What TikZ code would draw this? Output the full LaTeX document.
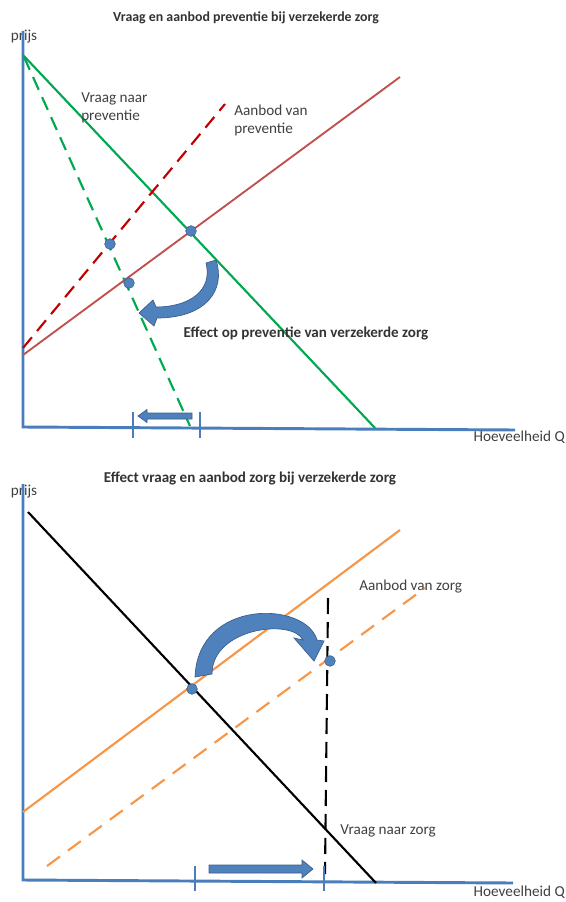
\documentclass[tikz,border=0pt]{standalone}
\usepackage{fontspec}
\setmainfont{Carlito}
\definecolor{axisblue}{HTML}{4A7EBB}
\definecolor{dotblue}{HTML}{4F81BD}
\definecolor{dotedge}{HTML}{385D8A}
\definecolor{cgreen}{HTML}{00A850}
\definecolor{cred}{HTML}{C0504D}
\definecolor{cdred}{HTML}{C00000}
\definecolor{corange}{HTML}{F79646}
\definecolor{ctext}{HTML}{404040}
\begin{document}
\begin{tikzpicture}[x=0.75pt,y=-0.75pt,
  axis/.style={draw=axisblue,line width=2.2pt},
  tickmark/.style={draw=axisblue,line width=1.6pt},
  curve/.style={line width=1.6pt},
  dashcurve/.style={line width=1.6pt,dash pattern=on 10.5pt off 6pt},
  dot/.style={circle,fill=dotblue,draw=dotedge,line width=0.4pt,inner sep=0pt,minimum size=8pt},
  blockarrow/.style={fill=dotblue,draw=dotedge,line width=0.5pt},
  lbl/.style={text=ctext,font=\fontsize{11.4}{13.5}\selectfont,inner sep=0pt,align=left},
  ttl/.style={text=black!80,font=\fontsize{10.4}{12}\selectfont\bfseries,inner sep=0pt}]
\useasboundingbox (0,0) rectangle (566,902);

% ---------- top chart ----------
\node[ttl] (t1) at (246,18) {Vraag en aanbod preventie bij verzekerde zorg};
\node[lbl] (p1) at (24,37) {prijs};
\coordinate (ya1) at (23,31);
\coordinate (o1) at (23,427);
\coordinate (xa1) at (515,430);
\draw[axis] (ya1) -- (o1) -- (xa1);
\node[lbl,anchor=east] (q1) at (565,437) {Hoeveelheid Q};

\coordinate (gs1) at (23,55);
\coordinate (ge1) at (375,428);
\coordinate (gd1) at (24,57);
\coordinate (gde1) at (190,426);
\draw[curve,cgreen] (gs1) -- (ge1);
\draw[dashcurve,cgreen] (gd1) -- (gde1);

\coordinate (rs1) at (23,355);
\coordinate (re1) at (400,77);
\coordinate (rds1) at (23,348);
\coordinate (rde1) at (225,104);
\draw[curve,cred,line width=1.4pt] (rs1) -- (re1);
\draw[dashcurve,cdred] (rds1) -- (rde1);

\node[lbl,anchor=north west] (vp) at (81,92) {Vraag naar\\preventie};
\node[lbl,anchor=north west] (ap) at (234,105) {Aanbod van\\preventie};

\node[dot] (d1) at (110,244) {};
\node[dot] (d2) at (191,231) {};
\node[dot] (d3) at (129,283) {};

\path[blockarrow] (206,263) .. controls (213,290) and (190,307) .. (156,307)
  -- (153,300) -- (139,313) -- (154,326) -- (157,318)
  .. controls (206,318) and (226,290) .. (216,260) -- cycle;

\node[ttl,font=\fontsize{11.3}{12}\selectfont\bfseries] (ep) at (306,333) {Effect op preventie van verzekerde zorg};

\coordinate (k1t) at (133,412);
\coordinate (k1b) at (133,438);
\coordinate (k2t) at (200,412);
\coordinate (k2b) at (200,438);
\draw[tickmark] (k1t) -- (k1b);
\draw[tickmark] (k2t) -- (k2b);
\path[blockarrow] (192,413) -- (147,413) -- (147,409.5) -- (138,416) -- (147,422.5) -- (147,419) -- (192,419) -- cycle;

% ---------- bottom chart ----------
\node[ttl,font=\fontsize{11.3}{12}\selectfont\bfseries] (t2) at (250,478) {Effect vraag en aanbod zorg bij verzekerde zorg};
\node[lbl] (p2) at (24,492) {prijs};
\coordinate (ya2) at (23,484);
\coordinate (o2) at (23,880);
\coordinate (xa2) at (513,883);
\draw[axis] (ya2) -- (o2) -- (xa2);
\node[lbl,anchor=east] (q2) at (565,892) {Hoeveelheid Q};

\coordinate (bs) at (28,512);
\coordinate (be) at (376,883);
\draw[curve,black] (bs) -- (be);

\coordinate (os) at (23,812);
\coordinate (oe) at (400,530);
\coordinate (ods) at (47,866);
\coordinate (ode) at (425,588);
\draw[curve,corange] (os) -- (oe);
\draw[dashcurve,corange,dash pattern=on 12pt off 7.5pt] (ods) -- (ode);

\coordinate (vs) at (328,598);
\coordinate (ve) at (325,874);
\draw[dashcurve,black,dash pattern=on 12pt off 6pt] (vs) -- (ve);

\node[lbl,anchor=west] (az) at (359,587) {Aanbod van zorg};
\node[lbl,anchor=west] (vz) at (340,831) {Vraag naar zorg};

\node[dot] (d4) at (192,689) {};
\node[dot] (d5) at (330,661) {};

\path[blockarrow] (212,674) .. controls (212,628) and (292,618) .. (303,640)
  -- (294,638) -- (314,661) -- (324,641) -- (317,640)
  .. controls (306,601) and (198,598) .. (195,677) -- cycle;

\coordinate (k3t) at (195,866);
\coordinate (k3b) at (195,891);
\coordinate (k4t) at (324,866);
\coordinate (k4b) at (324,891);
\draw[tickmark] (k3t) -- (k3b);
\draw[tickmark] (k4t) -- (k4b);
\path[blockarrow] (209,865) -- (302,865) -- (302,860) -- (313,869) -- (302,878) -- (302,873) -- (209,873) -- cycle;
\end{tikzpicture}
\end{document}
